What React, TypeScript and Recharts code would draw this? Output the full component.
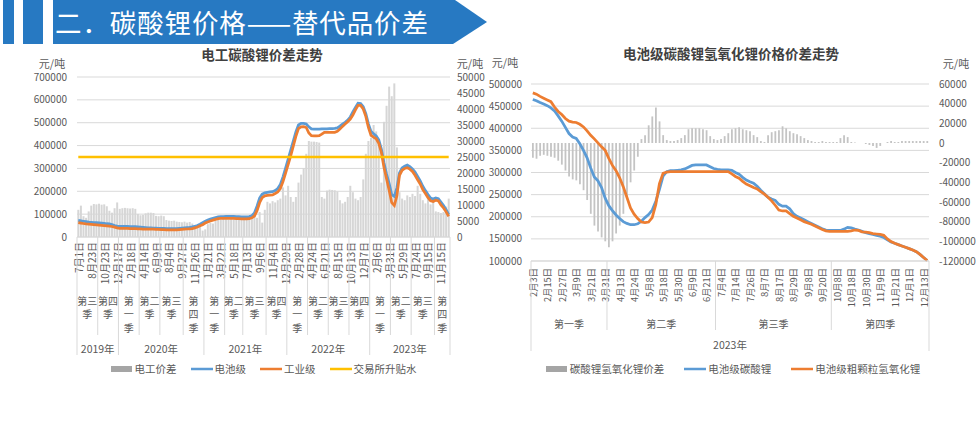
import React from 'react';
import { ComposedChart, Bar, Line, XAxis, YAxis, CartesianGrid, Legend } from 'recharts';

const FONT = '"Noto Sans CJK SC", "Noto Sans", sans-serif';
const TEXT = '#595959';
const TITLE = '#404040';
const GRID = '#d9d9d9';
const BLUE = '#5B9BD5';
const ORANGE = '#ED7D31';
const YELLOW = '#FFC000';
const BANNER = '#2779c2';

// ---------------- Left chart: 电工碳酸锂价差走势 ----------------
const leftDateLabels = ['7月1日', '8月23日', '10月23日', '12月17日', '2月18日', '4月14日', '6月9日', '8月4日', '9月27日', '11月26日', '1月21日', '3月22日', '5月18日', '7月13日', '9月6日', '11月4日', '12月29日', '2月28日', '4月24日', '6月21日', '8月15日', '10月13日', '12月7日', '2月6日', '3月31日', '5月29日', '7月24日', '9月15日', '11月15日'];
const leftQuarterStarts = [0, 8, 16, 24, 32, 41, 49, 57, 64, 73, 81, 89, 97, 105, 113, 121, 129, 138];
const leftQuarterNames = ['第三\n季', '第四\n季', '第\n一\n季', '第二\n季', '第三\n季', '第\n四\n季', '第\n一\n季', '第二\n季', '第三\n季', '第四\n季', '第\n一\n季', '第二\n季', '第三\n季', '第四\n季', '第\n一\n季', '第二\n季', '第三\n季', '第\n四\n季'];
const leftYearStarts = [0, 16, 49, 81, 113];
const leftYearNames = ['2019年', '2020年', '2021年', '2022年', '2023年'];
const leftAxisTicks = [0, 100000, 200000, 300000, 400000, 500000, 600000, 700000];
const leftRightAxisTicks = [0, 5000, 10000, 15000, 20000, 25000, 30000, 35000, 40000, 45000, 50000];

const elecSpread = [
  8500, 9800, 6500, 6000, 8000, 9800, 10300, 10200, 10400, 10100,
  10200, 9600, 8200, 7600, 9000, 10800, 8800, 9000, 9100, 9000,
  8900, 9000, 8800, 7200, 6800, 6900, 7400, 7600, 7600, 7500,
  6600, 6500, 6700, 6500, 5300, 5100, 5000, 5100, 4800, 4700,
  4600, 4800, 4500, 4700, 4200, 3400, 3000, 3300, 2000, 2400,
  4000, 4400, 4200, 5000, 5500, 5400, 5600, 5500, 5400, 5600,
  5500, 5400, 5500, 5600, 5500, 5400, 6000, 6500, 7200, 6000,
  7800, 4500, 8500, 11000, 10500, 11200, 10800, 11500, 12000, 15500,
  13000, 16000, 12500, 11000, 12500, 17000, 19500, 21500, 26000, 30000,
  29800, 29800, 29700, 29500, 12500, 12000, 14500, 14800, 14700, 14600,
  14200, 11500, 10500, 11000, 12500, 16000, 14000, 12000, 11500, 12500,
  18000, 26000, 30000, 31000, 35000, 33000, 30500, 17000, 36000, 41000,
  47000, 44000, 48000, 28000, 14000, 12000, 11500, 13000, 12500, 13500,
  12800, 16000, 13500, 11500, 10500, 11800, 10200, 11000, 8000, 7800,
  7500, 7800, 9500, 12000,
];
const batteryGrade = [
  73000, 71000, 69000, 67000, 65000, 64000, 63000, 63000, 62000, 61000,
  60000, 58000, 57000, 54000, 50000, 48000, 47000, 46000, 46000, 46000,
  45000, 45000, 45000, 44000, 43000, 42000, 41000, 40000, 40000, 39000,
  39000, 38000, 38000, 38000, 37000, 37000, 37000, 37000, 37000, 38000,
  39000, 40000, 41000, 42000, 44000, 47000, 50000, 56000, 63000, 69000,
  74000, 78000, 82000, 85000, 88000, 89000, 89000, 90000, 90000, 90000,
  90000, 89000, 89000, 88000, 88000, 88000, 89000, 93000, 105000, 135000,
  170000, 188000, 193000, 195000, 197000, 198000, 203000, 212000, 230000, 262000,
  300000, 340000, 380000, 420000, 460000, 490000, 497000, 497000, 494000, 482000,
  473000, 472000, 472000, 472000, 473000, 473000, 473000, 474000, 474000, 475000,
  477000, 485000, 494000, 502000, 511000, 525000, 547000, 567000, 585000, 584000,
  570000, 540000, 495000, 462000, 452000, 442000, 425000, 385000, 325000, 275000,
  235000, 185000, 178000, 215000, 280000, 302000, 310000, 315000, 308000, 298000,
  284000, 265000, 245000, 222000, 203000, 186000, 170000, 166000, 171000, 168000,
  153000, 138000, 120000, 98000,
];
const industrialGrade = [
  63000, 61000, 59000, 57000, 56000, 55000, 54000, 53000, 52000, 51000,
  50000, 49000, 48000, 46000, 43000, 40000, 38000, 38000, 38000, 38000,
  37000, 37000, 37000, 36000, 36000, 35000, 35000, 34000, 34000, 34000,
  33000, 33000, 32000, 32000, 31000, 31000, 31000, 31000, 31000, 32000,
  33000, 34000, 35000, 36000, 37000, 40000, 44000, 49000, 54000, 61000,
  66000, 70000, 74000, 77000, 80000, 81000, 81000, 82000, 82000, 82000,
  81000, 80000, 80000, 79000, 79000, 79000, 80000, 84000, 92000, 115000,
  150000, 172000, 180000, 182000, 183000, 184000, 190000, 197000, 212000, 242000,
  278000, 317000, 355000, 398000, 440000, 474000, 482000, 483000, 479000, 455000,
  443000, 442000, 442000, 443000, 450000, 458000, 458000, 458000, 458000, 458000,
  462000, 472000, 484000, 494000, 504000, 516000, 534000, 556000, 576000, 576000,
  560000, 528000, 480000, 445000, 437000, 430000, 410000, 370000, 305000, 255000,
  205000, 150000, 138000, 180000, 270000, 292000, 300000, 303000, 297000, 287000,
  270000, 250000, 232000, 207000, 190000, 172000, 158000, 155000, 161000, 158000,
  140000, 127000, 110000, 90000,
];
const EXCHANGE_SPREAD = 350000;

// ---------------- Right chart: 电池级碳酸锂氢氧化锂价格价差走势 ----------------
const rightDateLabels = ['2月3日', '2月15日', '2月27日', '3月9日', '3月21日', '3月31日', '4月13日', '4月24日', '5月8日', '5月18日', '5月30日', '6月9日', '6月21日', '7月4日', '7月14日', '7月26日', '8月7日', '8月17日', '8月29日', '9月8日', '9月20日', '10月8日', '10月18日', '10月30日', '11月9日', '11月21日', '12月1日', '12月13日'];
const rightQuarterStarts = [0, 21, 51, 83];
const rightQuarterNames = ['第一季', '第二季', '第三季', '第四季'];
const rightYearStarts = [0];
const rightYearNames = ['2023年'];
const rightAxisTicks = [100000, 150000, 200000, 250000, 300000, 350000, 400000, 450000, 500000];
const rightRightAxisTicks = [-120000, -100000, -80000, -60000, -40000, -20000, 0, 20000, 40000, 60000];

const carbHydroxSpread = [
  -15000, -16000, -13000, -12000, -13000, -14000, -15000, -18000, -22000, -28000,
  -34000, -37000, -38000, -42000, -48000, -58000, -72000, -84000, -90000, -96000,
  -100000, -106000, -100000, -92000, -84000, -72000, -56000, -40000, -28000, -14000,
  4000, 8000, 18000, 27000, 36000, 22000, 8000, 3000, 2000, 2000,
  3000, 5000, 8000, 14000, 15000, 15000, 15000, 14000, 13000, 7000,
  4000, 3000, 4000, 7000, 10000, 14000, 15000, 16000, 14000, 13000,
  12000, 8000, 6000, 2000, 1000, 8000, 11000, 12000, 13000, 17000,
  15000, 12000, 10000, 9000, 7000, 5000, 3000, 2000, 1000, 1000,
  2000, 1000, 1000, 1000, 1000, 5000, 8000, 6000, 1000, 500,
  0, 0, -1000, -2000, -3000, -5000, -3000, 0, 1000, 2000,
  1000, 1000, 2000, 2000, 2000, 2000, 2000, 2000, 2000, 2000,
];
const batteryCarbonate = [
  465000, 462000, 458000, 455000, 451000, 446000, 439000, 428000, 416000, 402000,
  388000, 380000, 377000, 365000, 350000, 333000, 310000, 290000, 281000, 266000,
  242000, 225000, 214000, 204000, 196000, 189000, 185000, 182000, 182000, 184000,
  190000, 198000, 205000, 215000, 235000, 262000, 292000, 302000, 304000, 304000,
  305000, 306000, 308000, 312000, 316000, 317000, 317000, 317000, 317000, 313000,
  309000, 307000, 306000, 306000, 306000, 305000, 300000, 296000, 289000, 283000,
  279000, 276000, 269000, 260000, 252000, 244000, 240000, 237000, 228000, 224000,
  224000, 218000, 207000, 201000, 197000, 193000, 189000, 185000, 181000, 177000,
  173000, 170000, 169000, 169000, 169000, 169000, 172000, 176000, 175000, 172000,
  170000, 167000, 164000, 162000, 160000, 158000, 156000, 153000, 148000, 143000,
  140000, 137000, 134000, 131000, 128000, 125000, 121000, 115000, 108000, 101000,
];
const coarseHydroxide = [
  480000, 477000, 472000, 468000, 464000, 460000, 448000, 438000, 431000, 422000,
  416000, 414000, 413000, 409000, 403000, 394000, 384000, 376000, 367000, 358000,
  350000, 332000, 316000, 304000, 288000, 268000, 244000, 220000, 206000, 196000,
  188000, 187000, 188000, 198000, 228000, 275000, 298000, 301000, 302000, 302000,
  302000, 302000, 302000, 302000, 302000, 302000, 302000, 302000, 302000, 302000,
  302000, 302000, 302000, 302000, 302000, 297000, 291000, 287000, 280000, 274000,
  270000, 266000, 263000, 257000, 251000, 244000, 236000, 226000, 215000, 213000,
  213000, 207000, 201000, 197000, 193000, 189000, 186000, 183000, 179000, 175000,
  171000, 168000, 167000, 167000, 167000, 167000, 167000, 167000, 168000, 170000,
  169000, 166000, 165000, 164000, 162000, 161000, 160000, 158000, 150000, 144000,
  140000, 137000, 134000, 131000, 128000, 125000, 121000, 115000, 108000, 101000,
];

const leftData = elecSpread.map((v, i) => ({
  i,
  spread: v,
  battery: batteryGrade[i],
  industrial: industrialGrade[i],
  exchange: EXCHANGE_SPREAD,
}));
const rightData = carbHydroxSpread.map((v, i) => ({
  i,
  spread: v,
  carbonate: batteryCarbonate[i],
  hydroxide: coarseHydroxide[i],
}));

interface AxisSpec {
  dateLabels: string[];
  step: number;
  dateDy: number;
  dateFont: number;
  quarterStarts: number[];
  quarterNames: string[];
  quarterY: number;
  quarterLineH: number;
  quarterFont: number;
  quarterLineLen: number;
  yearStarts: number[];
  yearNames: string[];
  yearY: number;
  yearLineLen: number;
  count: number;
}

function multiLevelTick(spec: AxisSpec) {
  return function Tick(props: any) {
    const { x, y, payload } = props;
    const i = Number(payload.value);
    const half = typeof payload.offset === 'number' ? payload.offset : 0;
    const band = half * 2;
    const left = x - half;
    const parts: React.ReactNode[] = [];
    if (i % spec.step === 0) {
      const label = spec.dateLabels[i / spec.step];
      if (label) {
        parts.push(
          <text key="d" transform={`translate(${x},${y + spec.dateDy}) rotate(-90)`} textAnchor="end"
            dominantBaseline="central" fontSize={spec.dateFont} fill={TEXT} fontFamily={FONT}>{label}</text>
        );
      }
    }
    const qi = spec.quarterStarts.indexOf(i);
    const yi = spec.yearStarts.indexOf(i);
    if (qi >= 0) {
      const len = yi >= 0 ? spec.yearLineLen : spec.quarterLineLen;
      parts.push(<line key="ql" x1={left} x2={left} y1={y} y2={y + len} stroke={GRID} strokeWidth={1} />);
      const end = qi + 1 < spec.quarterStarts.length ? spec.quarterStarts[qi + 1] : spec.count;
      const cx = left + ((end - i) * band) / 2;
      spec.quarterNames[qi].split('\n').forEach((t, k) => {
        parts.push(
          <text key={`q${k}`} x={cx} y={y + spec.quarterY + k * spec.quarterLineH} textAnchor="middle"
            dominantBaseline="central" fontSize={spec.quarterFont} fill={TEXT} fontFamily={FONT}>{t}</text>
        );
      });
    }
    if (yi >= 0) {
      const end = yi + 1 < spec.yearStarts.length ? spec.yearStarts[yi + 1] : spec.count;
      const cx = left + ((end - i) * band) / 2;
      parts.push(
        <text key="y" x={cx} y={y + spec.yearY} textAnchor="middle" dominantBaseline="central"
          fontSize={10.5} fill={TEXT} fontFamily={FONT}>{spec.yearNames[yi]}</text>
      );
    }
    if (i === spec.count - 1) {
      parts.push(<line key="end" x1={x + half} x2={x + half} y1={y} y2={y + spec.yearLineLen} stroke={GRID} strokeWidth={1} />);
    }
    return <g>{parts}</g>;
  };
}

function legendContent(order: string[], gap: number) {
  return function Content(props: any) {
    const payload = [...(props.payload || [])].sort(
      (a: any, b: any) => order.indexOf(a.value) - order.indexOf(b.value)
    );
    return (
      <div style={{ display: 'flex', justifyContent: 'center', alignItems: 'center', fontSize: 10.5, color: TEXT, fontFamily: FONT, whiteSpace: 'nowrap', lineHeight: '14px' }}>
        {payload.map((p: any, k: number) => (
          <div key={k} style={{ display: 'flex', alignItems: 'center', marginLeft: k ? gap : 0 }}>
            <svg width={22} height={8}>
              {p.type === 'rect'
                ? <rect x={0} y={1} width={21} height={6} fill="#a5a5a5" />
                : <line x1={0} x2={22} y1={4} y2={4} stroke={p.color} strokeWidth={2.5} />}
            </svg>
            <span style={{ marginLeft: 2 }}>{p.value}</span>
          </div>
        ))}
      </div>
    );
  };
}

const leftSpec: AxisSpec = {
  dateLabels: leftDateLabels, step: 5, dateDy: 5, dateFont: 10,
  quarterStarts: leftQuarterStarts, quarterNames: leftQuarterNames, quarterY: 63, quarterLineH: 13.5, quarterFont: 10,
  quarterLineLen: 98, yearStarts: leftYearStarts, yearNames: leftYearNames, yearY: 111, yearLineLen: 118,
  count: leftData.length,
};
const rightSpec: AxisSpec = {
  dateLabels: rightDateLabels, step: 4, dateDy: 7, dateFont: 9.3,
  quarterStarts: rightQuarterStarts, quarterNames: rightQuarterNames, quarterY: 62, quarterLineH: 13.5, quarterFont: 10,
  quarterLineLen: 69, yearStarts: rightYearStarts, yearNames: rightYearNames, yearY: 83, yearLineLen: 90,
  count: rightData.length,
};

const tickStyle = { fontSize: 10, fill: TEXT, fontFamily: FONT };
const fmt = (v: number) => String(v);

function TextAt({ x, y, children, size = 11, bold = false, color = TEXT }: any) {
  return (
    <div style={{ position: 'absolute', left: x, top: y, transform: 'translate(-50%, -50%)', fontSize: size, fontWeight: bold ? 700 : 400, color, whiteSpace: 'nowrap', fontFamily: FONT, lineHeight: 1 }}>
      {children}
    </div>
  );
}

export default function App() {
  return (
    <div style={{ position: 'absolute', left: 0, top: 0, width: 979, height: 421, background: '#fff', overflow: 'hidden', fontFamily: FONT }}>
      <svg width={490} height={46} style={{ position: 'absolute', left: 0, top: 0 }}>
        <rect x={3} y={0} width={11} height={44} fill={BANNER} />
        <rect x={23} y={0} width={20} height={44} fill={BANNER} />
        <polygon points="53,0 455,0 487,22 453,44 53,44" fill={BANNER} />
        <text x={55} y={21} dominantBaseline="central" fill="#fff" fontSize={26.5} fontFamily={FONT}
          textLength={373} lengthAdjust="spacing">二．碳酸锂价格——替代品价差</text>
      </svg>

      <div style={{ position: 'absolute', left: 0, top: 0 }}>
        <ComposedChart width={490} height={421} data={leftData} margin={{ top: 77, right: 0, bottom: 0, left: 0 }} barCategoryGap="12%">
          <CartesianGrid vertical={false} stroke={GRID} yAxisId="left" />
          <XAxis dataKey="i" interval={0} tickLine={false} tickSize={0} tickMargin={0} height={184}
            axisLine={{ stroke: GRID }} tick={multiLevelTick(leftSpec)} />
          <YAxis yAxisId="left" width={77} domain={[0, 700000]} ticks={leftAxisTicks} interval={0} axisLine={false} tickLine={false}
            tickSize={0} tickMargin={10} tick={tickStyle} tickFormatter={fmt} />
          <YAxis yAxisId="right" orientation="right" width={40} domain={[0, 50000]} ticks={leftRightAxisTicks} interval={0} axisLine={false}
            tickLine={false} tickSize={0} tickMargin={7} tick={tickStyle} tickFormatter={fmt} />
          <Bar yAxisId="right" dataKey="spread" name="电工价差" fill="#d6d6d6" isAnimationActive={false} />
          <Line yAxisId="left" dataKey="battery" name="电池级" stroke={BLUE} strokeWidth={2.75} dot={false} isAnimationActive={false} />
          <Line yAxisId="left" dataKey="industrial" name="工业级" stroke={ORANGE} strokeWidth={2.75} dot={false} isAnimationActive={false} />
          <Line yAxisId="left" dataKey="exchange" name="交易所升贴水" stroke={YELLOW} strokeWidth={2.5} dot={false} isAnimationActive={false} />
          <Legend layout="horizontal" verticalAlign="middle" align="center"
            wrapperStyle={{ position: 'absolute', left: 77, top: 362, width: 373, height: 14 }}
            content={legendContent(['电工价差', '电池级', '工业级', '交易所升贴水'], 14)} />
        </ComposedChart>
      </div>

      <div style={{ position: 'absolute', left: 478, top: 0 }}>
        <ComposedChart width={501} height={421} data={rightData} margin={{ top: 84, right: 0, bottom: 0, left: 0 }}>
          <CartesianGrid vertical={false} stroke={GRID} yAxisId="left" />
          <XAxis dataKey="i" interval={0} tickLine={false} tickSize={0} tickMargin={0} height={160}
            axisLine={{ stroke: GRID }} tick={multiLevelTick(rightSpec)} />
          <YAxis yAxisId="left" width={53} domain={[100000, 500000]} ticks={rightAxisTicks} interval={0} axisLine={false} tickLine={false}
            tickSize={0} tickMargin={9} tick={tickStyle} tickFormatter={fmt} />
          <YAxis yAxisId="right" orientation="right" width={50} domain={[-120000, 60000]} ticks={rightRightAxisTicks} interval={0} axisLine={false}
            tickLine={false} tickSize={0} tickMargin={10} tick={tickStyle} tickFormatter={fmt} />
          <Bar yAxisId="right" dataKey="spread" name="碳酸锂氢氧化锂价差" fill="#c4c4c4" barSize={1.8} isAnimationActive={false} />
          <Line yAxisId="left" dataKey="carbonate" name="电池级碳酸锂" stroke={BLUE} strokeWidth={2.75} dot={false} isAnimationActive={false} />
          <Line yAxisId="left" dataKey="hydroxide" name="电池级粗颗粒氢氧化锂" stroke={ORANGE} strokeWidth={2.75} dot={false} isAnimationActive={false} />
          <Legend layout="horizontal" verticalAlign="middle" align="center"
            wrapperStyle={{ position: 'absolute', left: 56, top: 362, width: 398, height: 14 }}
            content={legendContent(['碳酸锂氢氧化锂价差', '电池级碳酸锂', '电池级粗颗粒氢氧化锂'], 20)} />
        </ComposedChart>
      </div>

      <TextAt x={262} y={55} size={13.5} bold color={TITLE}>电工碳酸锂价差走势</TextAt>
      <TextAt x={731} y={54} size={13.5} bold color={TITLE}>电池级碳酸锂氢氧化锂价格价差走势</TextAt>
      <TextAt x={52} y={63}>元/吨</TextAt>
      <TextAt x={470} y={63}>元/吨</TextAt>
      <TextAt x={505} y={62}>元/吨</TextAt>
      <TextAt x={956} y={63}>元/吨</TextAt>
    </div>
  );
}
